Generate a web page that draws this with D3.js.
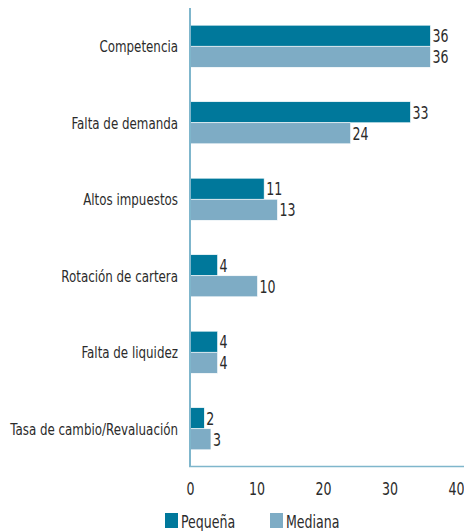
<!DOCTYPE html>
<html>
<head>
<meta charset="utf-8">
<script src="https://cdn.jsdelivr.net/npm/d3@7"></script>
<style>
  body { margin: 0; background: #fff; }
  text { font-family: "DejaVu Sans Condensed", "DejaVu Sans", sans-serif; fill: #2b2b2b; }
</style>
</head>
<body>
<svg id="chart" width="464" height="531"></svg>
<script>
const categories = ["Competencia", "Falta de demanda", "Altos impuestos", "Rotación de cartera", "Falta de liquidez", "Tasa de cambio/Revaluación"];
const pequena = [36, 33, 11, 4, 4, 2];
const mediana = [36, 24, 13, 10, 4, 3];
const seriesNames = ["Pequeña", "Mediana"];
const xTicks = [0, 10, 20, 30, 40];

const colors = ["#00789b", "#7eacc5"];
const squeeze = 0.8; // the original font is narrow, DejaVu Condensed still too wide
const svg = d3.select("#chart");

const x = d3.scaleLinear().domain([0, 40]).range([190, 456]);
const y = d3.scaleBand().domain(categories).range([8, 467]).paddingInner(0.45).paddingOuter(0.225);
const sub = d3.scaleBand().domain(seriesNames).range([0, y.bandwidth()]);

const rows = categories.map((c, i) => ({ cat: c, vals: [pequena[i], mediana[i]] }));

const groups = svg.selectAll(".grp")
  .data(rows)
  .enter()
  .append("g")
  .attr("class", "grp")
  .attr("transform", d => `translate(0,${y(d.cat)})`);

// bars
groups.selectAll("rect")
  .data(d => d.vals.map((v, j) => ({ v, s: seriesNames[j], j })))
  .enter()
  .append("rect")
  .attr("x", x(0))
  .attr("y", d => sub(d.s))
  .attr("width", d => x(d.v) - x(0) + 1)
  .attr("height", sub.bandwidth())
  .attr("fill", d => colors[d.j])
  .attr("stroke", "#ffffff")
  .attr("stroke-width", 0.6);

// value labels
groups.selectAll(".val")
  .data(d => d.vals.map((v, j) => ({ v, s: seriesNames[j] })))
  .enter()
  .append("text")
  .attr("class", "val")
  .attr("transform", d => `translate(${x(d.v) + 3},${sub(d.s) + sub.bandwidth() / 2}) scale(${squeeze},1)`)
  .attr("dy", "0.36em")
  .attr("font-size", 17.5)
  .text(d => d.v);

// category labels
groups.append("text")
  .attr("transform", `translate(178,${y.bandwidth() / 2}) scale(${squeeze},1)`)
  .attr("dy", "0.36em")
  .attr("text-anchor", "end")
  .attr("font-size", 16.5)
  .text(d => d.cat);

// axes lines
svg.append("line")
  .attr("x1", x(0)).attr("x2", x(0))
  .attr("y1", 8).attr("y2", 467)
  .attr("stroke", "#7fb6cc").attr("stroke-width", 2);
svg.append("line")
  .attr("x1", x(0) - 1).attr("x2", 464)
  .attr("y1", 466.5).attr("y2", 466.5)
  .attr("stroke", "#7fb6cc").attr("stroke-width", 1.5);

// x tick labels
const xAxis = d3.axisBottom(x).tickValues(xTicks).tickSize(0).tickPadding(0);
const ax = svg.append("g").attr("transform", "translate(0,483)").call(xAxis);
ax.select(".domain").remove();
ax.selectAll("text")
  .attr("font-size", 17.5)
  .attr("dy", "0.71em")
  .attr("transform", `scale(${squeeze},1)`)
  .style("fill", "#2b2b2b")
  .style("font-family", "'DejaVu Sans Condensed', sans-serif");

// legend
const legendX = [165, 270];
const legend = svg.selectAll(".leg")
  .data(seriesNames)
  .enter()
  .append("g")
  .attr("class", "leg")
  .attr("transform", (d, i) => `translate(${legendX[i]},513)`);
legend.append("rect").attr("width", 13).attr("height", 15).attr("fill", (d, i) => colors[i]);
legend.append("text")
  .attr("transform", `translate(16,8) scale(${squeeze},1)`)
  .attr("dy", "0.38em")
  .attr("font-size", 17.5)
  .text(d => d);
</script>
</body>
</html>
